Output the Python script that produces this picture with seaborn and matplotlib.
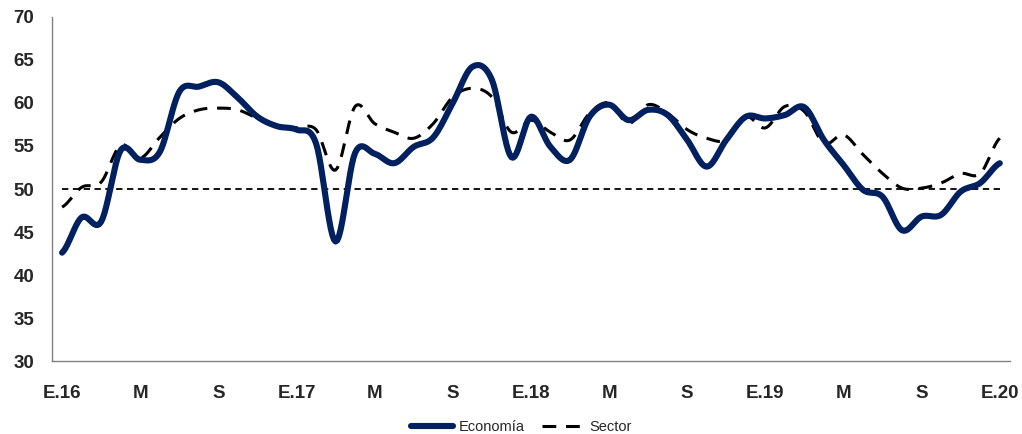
import numpy as np
import pandas as pd
import seaborn as sns
import matplotlib
matplotlib.use("Agg")
import matplotlib.pyplot as plt
from matplotlib.lines import Line2D

# ------ data: monthly, E.16 .. E.20 ------ #
economia = [42.6, 46.7, 46.2, 54.5, 53.4, 54.3, 61.3, 61.9, 62.4, 60.6, 58.4, 57.3,
            56.9, 55.3, 43.9, 54.2, 54.1, 53.0, 54.9, 56.0, 60.0, 64.2, 62.7, 53.7,
            58.4, 54.9, 53.4, 58.4, 59.8, 58.0, 59.2, 58.6, 55.7, 52.6, 55.7, 58.4,
            58.2, 58.6, 59.5, 55.7, 52.8, 49.9, 49.1, 45.2, 46.8, 47.0, 49.7, 50.7,
            53.0]
sector = [47.9, 50.2, 50.8, 55.1, 53.6, 56.0, 58.2, 59.2, 59.4, 59.2, 58.2, 57.3,
          57.1, 56.9, 52.2, 59.6, 57.6, 56.6, 55.9, 57.6, 60.7, 61.7, 60.7, 56.6,
          58.0, 56.6, 55.7, 58.8, 60.0, 57.6, 59.8, 58.8, 56.9, 55.9, 55.7, 58.4,
          57.1, 59.6, 59.0, 55.3, 56.3, 54.0, 51.8, 50.1, 50.1, 50.7, 51.8, 51.8,
          55.9]
umbral = 50
tick_labels = ["E.16", "M", "S", "E.17", "M", "S", "E.18", "M", "S",
               "E.19", "M", "S", "E.20"]

NAVY = "#002060"


def smooth(values, n=12):
    # Catmull-Rom curve through the points (like Excel's "smoothed line")
    y = np.asarray(values, dtype=float)
    yp = np.concatenate([[y[0]], y, [y[-1]]])
    xs, ys = [], []
    for i in range(len(y) - 1):
        p0, p1, p2, p3 = yp[i], yp[i + 1], yp[i + 2], yp[i + 3]
        t = np.linspace(0, 1, n, endpoint=False)
        seg = 0.5 * (2 * p1 + (-p0 + p2) * t
                     + (2 * p0 - 5 * p1 + 4 * p2 - p3) * t ** 2
                     + (-p0 + 3 * p1 - 3 * p2 + p3) * t ** 3)
        xs.append(i + t)
        ys.append(seg)
    xs.append([len(y) - 1])
    ys.append([y[-1]])
    return np.concatenate(xs), np.concatenate(ys)


sns.set_theme(style="white")
plt.rcParams["font.family"] = ["Liberation Sans", "DejaVu Sans"]

fig = plt.figure(figsize=(10.22, 4.34), dpi=100, facecolor="w")
ax = fig.add_axes([0.051, 0.168, 0.937, 0.793])

months = np.arange(len(economia))
ax.plot(months, [umbral] * len(months), color="black", lw=1.3,
        dashes=(3.5, 2.5), zorder=1)

sx, sy = smooth(sector)
sns.lineplot(x=sx, y=sy, ax=ax, color="black", lw=2.2, dashes=False,
             sort=False, zorder=2)
ax.lines[-1].set_dashes((4.5, 3.2))

ex, ey = smooth(economia)
sns.lineplot(x=ex, y=ey, ax=ax, color=NAVY, lw=4.4, sort=False, zorder=3)

ax.set_xlim(-0.51, 48.51)
ax.set_ylim(30, 70)
ax.set_yticks(np.arange(30, 71, 5))
ax.set_xticks(np.arange(0, 49, 4))
ax.set_xticklabels(tick_labels)
ax.tick_params(axis="both", length=0, labelsize=13.5)
ax.tick_params(axis="y", pad=13)
ax.tick_params(axis="x", pad=17)
for lab in ax.get_xticklabels() + ax.get_yticklabels():
    lab.set_fontweight("bold")

sns.despine(ax=ax, top=True, right=True)
for side in ("left", "bottom"):
    ax.spines[side].set_color("#808080")
    ax.spines[side].set_linewidth(1.0)

handles = [Line2D([], [], color=NAVY, lw=4.4, solid_capstyle="round"),
           Line2D([], [], color="black", lw=2.2, dashes=(4.5, 3.2))]
fig.legend(handles, ["Economía", "Sector"], loc="lower center",
           bbox_to_anchor=(0.51, -0.03), ncol=2, frameon=False,
           fontsize=10.5, handlelength=2.9, columnspacing=1.2, handletextpad=0.35)

plt.savefig("out.png", dpi=100)
